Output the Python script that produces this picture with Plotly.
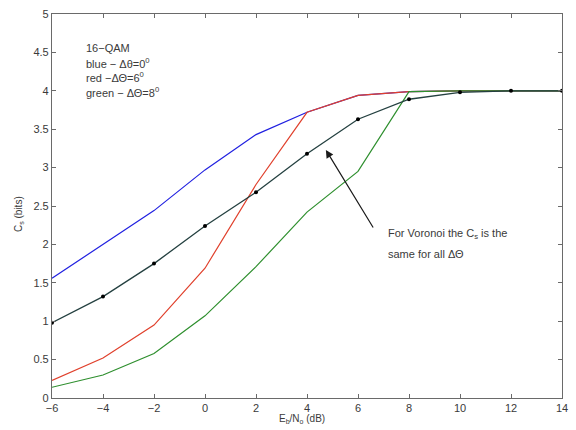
import plotly.graph_objects as go

# Eb/No grid (dB)
ebno_db = [-6, -4, -2, 0, 2, 4, 6, 8, 10, 12, 14]

# Secrecy capacity Cs (bits) for 16-QAM
cs_blue = [1.56, 2.00, 2.44, 2.97, 3.43, 3.72, 3.94, 3.99, 4.00, 4.00, 4.00]    # dTheta = 0 deg
cs_red = [0.23, 0.52, 0.95, 1.69, 2.78, 3.72, 3.94, 3.99, 4.00, 4.00, 4.00]     # dTheta = 6 deg
cs_green = [0.14, 0.30, 0.58, 1.07, 1.71, 2.42, 2.95, 3.99, 4.00, 4.00, 4.00]   # dTheta = 8 deg
cs_voronoi = [0.98, 1.32, 1.75, 2.24, 2.68, 3.18, 3.63, 3.89, 3.98, 4.00, 4.00]  # Voronoi

x_ticks = [-6, -4, -2, 0, 2, 4, 6, 8, 10, 12, 14]
y_ticks = [0, 0.5, 1, 1.5, 2, 2.5, 3, 3.5, 4, 4.5, 5]
y_tick_text = ["0", "0.5", "1", "1.5", "2", "2.5", "3", "3.5", "4", "4.5", "5"]

FONT = "Liberation Sans, Arial, sans-serif"
AXIS_GREY = "#6a6a6a"
TEXT_GREY = "#3a3a3a"

fig = go.Figure()
fig.add_trace(go.Scatter(x=ebno_db, y=cs_blue, mode="lines",
                         line=dict(color="#2020e0", width=1.2)))
fig.add_trace(go.Scatter(x=ebno_db, y=cs_red, mode="lines",
                         line=dict(color="#e0402c", width=1.2)))
fig.add_trace(go.Scatter(x=ebno_db, y=cs_green, mode="lines",
                         line=dict(color="#2e8f2e", width=1.2)))
fig.add_trace(go.Scatter(x=ebno_db, y=cs_voronoi, mode="lines+markers",
                         line=dict(color="#244040", width=1.3),
                         marker=dict(color="black", size=4)))

# Legend-style notes in the upper left
notes = [
    "16−QAM",
    "blue − Δθ=0<sup>0</sup>",
    "red −ΔΘ=6<sup>0</sup>",
    "green − ΔΘ=8<sup>0</sup>",
]
for i, t in enumerate(notes):
    fig.add_annotation(x=-4.75, y=4.56 - i * 0.193, xref="x", yref="y",
                       text=t, showarrow=False, xanchor="left", yanchor="middle",
                       font=dict(family=FONT, size=11, color=TEXT_GREY))

# Arrow pointing at the Voronoi curve
fig.add_annotation(x=4.74, y=3.23, xref="x", yref="y",
                   ax=6.63, ay=2.2, axref="x", ayref="y",
                   text="", showarrow=True, arrowhead=2, arrowsize=1.3,
                   arrowwidth=1.2, arrowcolor="#1a1a1a")
fig.add_annotation(x=7.1, y=2.13, xref="x", yref="y",
                   text="For Voronoi the C<sub>s</sub> is the", showarrow=False,
                   xanchor="left", yanchor="middle",
                   font=dict(family=FONT, size=11, color=TEXT_GREY))
fig.add_annotation(x=7.1, y=1.88, xref="x", yref="y",
                   text="same for all ΔΘ", showarrow=False,
                   xanchor="left", yanchor="middle",
                   font=dict(family=FONT, size=11, color=TEXT_GREY))

# Axis titles
fig.add_annotation(x=0.49, y=-0.055, xref="paper", yref="paper",
                   text="E<sub>b</sub>/N<sub>o</sub> (dB)", showarrow=False,
                   xanchor="center", yanchor="middle",
                   font=dict(family=FONT, size=10, color=TEXT_GREY))
fig.add_annotation(x=-0.066, y=0.48, xref="paper", yref="paper",
                   text="C<sub>s</sub> (bits)", showarrow=False, textangle=-90,
                   xanchor="center", yanchor="middle",
                   font=dict(family=FONT, size=10, color=TEXT_GREY))

axis_common = dict(
    showgrid=False, zeroline=False, showline=True, linecolor=AXIS_GREY,
    linewidth=1.2, mirror="ticks", ticks="inside", ticklen=4,
    tickcolor=AXIS_GREY, tickwidth=1,
    tickfont=dict(family=FONT, size=11, color=TEXT_GREY),
)

fig.update_layout(
    width=576, height=430,
    margin=dict(l=52, r=8, t=9, b=32),
    paper_bgcolor="white", plot_bgcolor="white",
    showlegend=False,
    xaxis=dict(range=[-6, 14], tickvals=x_ticks, **axis_common),
    yaxis=dict(range=[0, 5], tickvals=y_ticks, ticktext=y_tick_text,
               **axis_common),
)

fig.write_html("out.html")
